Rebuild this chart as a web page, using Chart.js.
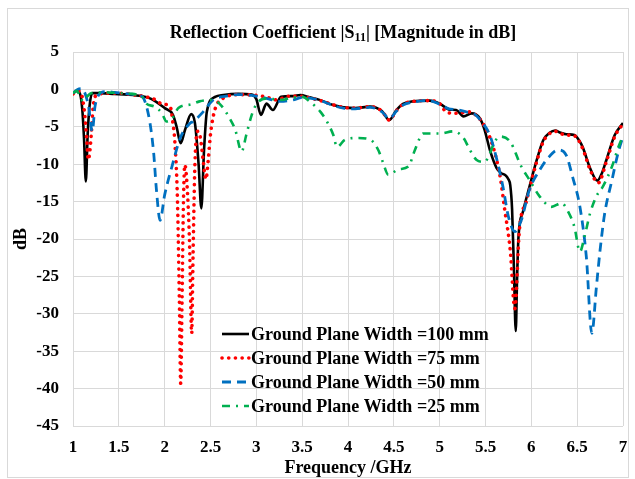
<!DOCTYPE html>
<html>
<head>
<meta charset="utf-8">
<script src="https://cdn.jsdelivr.net/npm/chart.js@4/dist/chart.umd.min.js"></script>
<style>
  html, body { margin: 0; padding: 0; background: #ffffff; }
  #wrap { width: 635px; height: 479px; position: relative; }
</style>
</head>
<body>
<div id="wrap"><canvas id="c" width="635" height="479"></canvas></div>
<script>
// Frequency axis ticks (GHz) and dB ticks
const xTickLabels = ['1', '1.5', '2', '2.5', '3', '3.5', '4', '4.5', '5', '5.5', '6', '6.5', '7'];
const yTickLabels = ['5', '0', '-5', '-10', '-15', '-20', '-25', '-30', '-35', '-40', '-45'];

const seriesNames = [
  'Ground Plane Width =100 mm',
  'Ground Plane Width =75 mm',
  'Ground Plane Width =50 mm',
  'Ground Plane Width =25 mm'
];

// |S11| in dB, ground plane width 100 mm
const freq100 = [1.00, 1.04, 1.07, 1.10, 1.12, 1.14, 1.16, 1.18, 1.21, 1.30, 1.45, 1.60, 1.75, 1.82, 1.90, 2.00, 2.09, 2.13, 2.175, 2.22, 2.29, 2.33, 2.37, 2.40, 2.43, 2.46, 2.55, 2.64, 2.80, 2.95, 3.00, 3.05, 3.11, 3.18, 3.27, 3.40, 3.48, 3.58, 3.69, 3.84, 3.95, 4.08, 4.24, 4.37, 4.45, 4.53, 4.60, 4.71, 4.89, 5.00, 5.11, 5.18, 5.26, 5.35, 5.44, 5.49, 5.55, 5.62, 5.67, 5.71, 5.75, 5.77, 5.79, 5.81, 5.83, 5.845, 5.86, 5.91, 5.98, 6.06, 6.13, 6.20, 6.26, 6.32, 6.38, 6.47, 6.52, 6.56, 6.64, 6.72, 6.77, 6.82, 6.91, 7.00];
const s11_100 = [-0.6, -0.2, -0.4, -2.5, -6.5, -12.3, -6.0, -2.3, -0.5, -0.5, -0.6, -0.7, -0.9, -1.1, -1.6, -2.5, -3.4, -5.0, -7.2, -5.5, -3.3, -4.5, -10.0, -15.9, -8.0, -3.0, -1.0, -0.75, -0.6, -0.7, -1.3, -3.4, -1.9, -2.75, -1.0, -0.9, -0.75, -1.05, -1.4, -2.1, -2.4, -2.5, -2.3, -2.9, -4.1, -2.75, -1.95, -1.6, -1.5, -1.9, -2.7, -2.75, -3.6, -3.2, -3.9, -5.4, -8.2, -10.5, -11.2, -11.4, -12.0, -12.8, -16.0, -24.0, -32.3, -25.0, -19.7, -16.3, -13.0, -9.4, -6.8, -5.8, -5.5, -5.8, -6.0, -6.1, -6.8, -7.7, -10.5, -12.2, -11.2, -9.4, -6.1, -4.5];

// |S11| in dB, ground plane width 75 mm
const freq75 = [1.00, 1.06, 1.10, 1.13, 1.15, 1.167, 1.185, 1.20, 1.22, 1.26, 1.40, 1.50, 1.65, 1.80, 1.90, 1.97, 2.06, 2.09, 2.11, 2.14, 2.16, 2.175, 2.19, 2.205, 2.22, 2.24, 2.27, 2.295, 2.31, 2.33, 2.36, 2.39, 2.42, 2.45, 2.475, 2.50, 2.53, 2.57, 2.65, 2.80, 3.00, 3.10, 3.22, 3.36, 3.48, 3.60, 3.70, 3.85, 3.95, 4.08, 4.24, 4.37, 4.45, 4.53, 4.60, 4.71, 4.89, 5.00, 5.07, 5.16, 5.25, 5.33, 5.38, 5.47, 5.57, 5.66, 5.71, 5.77, 5.82, 5.87, 5.95, 6.06, 6.13, 6.20, 6.26, 6.32, 6.38, 6.47, 6.56, 6.64, 6.73, 6.82, 6.91, 7.00];
const s11_75 = [-0.6, -0.2, -1.0, -3.6, -6.8, -9.4, -8.1, -5.9, -2.3, -0.75, -0.5, -0.5, -0.7, -1.0, -1.4, -1.95, -2.3, -4.5, -6.8, -15.0, -28.0, -39.3, -28.0, -15.0, -10.1, -12.0, -20.0, -32.6, -22.0, -10.0, -5.6, -6.5, -9.5, -12.0, -9.5, -6.0, -3.6, -2.0, -1.1, -0.7, -0.8, -1.0, -1.4, -0.9, -0.9, -1.2, -1.5, -2.1, -2.4, -2.5, -2.3, -2.9, -4.1, -2.8, -2.0, -1.6, -1.5, -1.9, -3.0, -3.2, -3.1, -3.0, -3.3, -4.5, -7.2, -11.7, -16.1, -21.5, -29.3, -18.8, -14.8, -9.6, -7.0, -5.9, -5.6, -5.9, -6.1, -6.2, -7.9, -10.7, -12.5, -9.6, -6.3, -4.6];

// |S11| in dB, ground plane width 50 mm
const freq50 = [1.00, 1.05, 1.09, 1.13, 1.17, 1.21, 1.24, 1.28, 1.35, 1.45, 1.60, 1.72, 1.77, 1.84, 1.88, 1.91, 1.95, 2.00, 2.08, 2.17, 2.28, 2.31, 2.42, 2.53, 2.67, 2.80, 2.95, 3.11, 3.26, 3.40, 3.50, 3.60, 3.70, 3.85, 3.95, 4.08, 4.24, 4.37, 4.45, 4.53, 4.60, 4.71, 4.89, 5.00, 5.10, 5.18, 5.29, 5.38, 5.47, 5.55, 5.62, 5.69, 5.75, 5.82, 5.89, 5.98, 6.09, 6.18, 6.29, 6.38, 6.45, 6.53, 6.60, 6.66, 6.71, 6.75, 6.80, 6.88, 6.95, 7.00];
const s11_50 = [-0.5, 0.0, 0.1, -0.5, -2.3, -5.6, -2.3, -0.75, -0.3, -0.4, -0.6, -0.8, -1.2, -4.5, -8.5, -13.4, -17.5, -14.1, -10.3, -6.5, -4.5, -4.3, -3.0, -1.4, -0.9, -0.7, -0.8, -1.2, -1.6, -1.4, -1.1, -1.2, -1.5, -2.2, -2.5, -2.6, -2.4, -3.0, -3.9, -2.9, -2.1, -1.7, -1.5, -2.0, -2.6, -2.7, -3.0, -3.3, -4.5, -6.2, -9.2, -13.0, -17.0, -19.0, -17.5, -13.4, -10.8, -9.2, -8.1, -8.8, -11.7, -15.7, -22.4, -32.6, -26.4, -21.5, -16.6, -12.1, -8.3, -6.3];

// |S11| in dB, ground plane width 25 mm
const freq25 = [1.00, 1.04, 1.08, 1.11, 1.15, 1.20, 1.35, 1.50, 1.65, 1.77, 1.80, 1.89, 1.97, 2.02, 2.08, 2.15, 2.29, 2.38, 2.53, 2.62, 2.71, 2.77, 2.84, 2.89, 2.95, 3.00, 3.11, 3.26, 3.40, 3.50, 3.60, 3.70, 3.77, 3.84, 3.88, 3.97, 4.11, 4.24, 4.33, 4.38, 4.44, 4.55, 4.66, 4.73, 4.82, 5.00, 5.15, 5.26, 5.33, 5.40, 5.49, 5.55, 5.60, 5.66, 5.77, 5.89, 5.98, 6.09, 6.22, 6.33, 6.40, 6.47, 6.53, 6.58, 6.64, 6.71, 6.78, 6.88, 6.95, 7.00];
const s11_25 = [-0.5, -0.2, -1.0, -1.6, -1.0, -0.5, -0.4, -0.5, -0.6, -1.2, -1.9, -2.3, -3.2, -4.3, -3.9, -2.5, -2.0, -1.6, -1.4, -2.2, -3.9, -5.4, -8.3, -6.1, -3.4, -2.0, -1.2, -1.4, -1.1, -1.0, -1.8, -3.0, -4.3, -6.1, -7.7, -6.7, -6.5, -6.7, -8.1, -9.7, -11.4, -10.7, -10.3, -8.1, -5.9, -5.9, -5.6, -6.5, -8.1, -9.4, -9.7, -8.5, -7.0, -6.3, -7.0, -10.3, -12.1, -14.3, -15.7, -15.2, -16.3, -18.4, -21.7, -19.7, -16.6, -14.3, -13.0, -10.3, -7.7, -6.2];

const SERIF = '"Liberation Serif", "Times New Roman", serif';

function toPoints(xs, ys) {
  return xs.map((x, i) => ({ x: x, y: ys[i] }));
}

const lineStyles = [
  { color: '#000000', width: 2.6, dash: [],            cap: 'butt'  },
  { color: '#ff0000', width: 3.6, dash: [0.1, 6.6],    cap: 'round' },
  { color: '#0070c0', width: 2.8, dash: [9, 6],        cap: 'butt'  },
  { color: '#00b050', width: 2.6, dash: [8, 6, 2, 6],  cap: 'butt'  }
];

const seriesData = [
  toPoints(freq100, s11_100),
  toPoints(freq75, s11_75),
  toPoints(freq50, s11_50),
  toPoints(freq25, s11_25)
];

const datasets = seriesData.map((pts, i) => ({
  label: seriesNames[i],
  data: pts,
  borderColor: lineStyles[i].color,
  borderWidth: lineStyles[i].width,
  borderDash: lineStyles[i].dash,
  borderCapStyle: lineStyles[i].cap,
  borderJoinStyle: 'round',
  pointRadius: 0,
  fill: false,
  cubicInterpolationMode: 'monotone',
  order: 4 - i
}));

// Chart title with a subscripted S11, outer frame and in-plot legend
const decorations = {
  id: 'decorations',
  afterDatasetsDraw(chart) {
    const ctx = chart.ctx;
    ctx.save();
    // legend block
    const lx0 = 222, lx1 = 249, tx = 251;
    const rows = [334, 358, 382, 406];
    ctx.font = 'bold 18px ' + SERIF;
    ctx.textBaseline = 'middle';
    ctx.textAlign = 'left';
    rows.forEach((y, i) => {
      const st = lineStyles[i];
      ctx.beginPath();
      ctx.strokeStyle = st.color;
      ctx.lineWidth = st.width;
      ctx.lineCap = st.cap;
      ctx.setLineDash(st.dash);
      ctx.moveTo(lx0, y);
      ctx.lineTo(lx1, y);
      ctx.stroke();
      ctx.setLineDash([]);
      ctx.fillStyle = '#000000';
      ctx.fillText(seriesNames[i], tx, y + 1);
    });
    ctx.restore();
  },
  afterDraw(chart) {
    const ctx = chart.ctx;
    ctx.save();
    // outer frame
    ctx.strokeStyle = '#d9d9d9';
    ctx.lineWidth = 1;
    ctx.strokeRect(7.5, 8.5, 621, 469);
    // title
    const big = 'bold 18px ' + SERIF;
    const small = 'bold 12px ' + SERIF;
    const p1 = 'Reflection Coefficient |S';
    const p2 = '11';
    const p3 = '| [Magnitude in dB]';
    ctx.font = big;
    const w1 = ctx.measureText(p1).width;
    const w3 = ctx.measureText(p3).width;
    ctx.font = small;
    const w2 = ctx.measureText(p2).width;
    const total = w1 + w2 + w3;
    let x = 343 - total / 2;
    const y = 33;
    ctx.fillStyle = '#000000';
    ctx.textBaseline = 'middle';
    ctx.textAlign = 'left';
    ctx.font = big;
    ctx.fillText(p1, x, y);
    x += w1;
    ctx.font = small;
    ctx.fillText(p2, x, y + 5);
    x += w2;
    ctx.font = big;
    ctx.fillText(p3, x, y);
    ctx.restore();
  }
};

new Chart(document.getElementById('c'), {
  type: 'line',
  data: { datasets: datasets },
  plugins: [decorations],
  options: {
    responsive: false,
    animation: false,
    devicePixelRatio: 1,
    layout: { padding: { left: 0, right: 12, top: 52, bottom: 0 } },
    plugins: {
      legend: { display: false },
      tooltip: { enabled: false },
      title: { display: false }
    },
    scales: {
      x: {
        type: 'linear',
        min: 1,
        max: 7,
        afterBuildTicks(scale) {
          scale.ticks = xTickLabels.map(v => ({ value: parseFloat(v) }));
        },
        ticks: {
          autoSkip: false,
          maxRotation: 0,
          padding: 11,
          color: '#000000',
          font: { family: SERIF, size: 17, weight: 'bold' },
          callback: (v) => xTickLabels[xTickLabels.findIndex(t => parseFloat(t) === v)]
        },
        grid: { color: '#d9d9d9', lineWidth: 1, drawTicks: false },
        border: { display: false },
        title: {
          display: true,
          text: 'Frequency /GHz',
          color: '#000000',
          font: { family: SERIF, size: 18, weight: 'bold' },
          padding: { top: 2, bottom: 0 }
        },
        afterFit(scale) {
          scale.height = 53;
          scale.paddingLeft = 0;
          scale.paddingRight = 0;
        }
      },
      y: {
        type: 'linear',
        min: -45,
        max: 5,
        afterBuildTicks(scale) {
          scale.ticks = yTickLabels.map(v => ({ value: parseFloat(v) }));
        },
        ticks: {
          padding: 14,
          color: '#000000',
          font: { family: SERIF, size: 17, weight: 'bold' },
          callback: (v) => yTickLabels[yTickLabels.findIndex(t => parseFloat(t) === v)]
        },
        grid: { color: '#d9d9d9', lineWidth: 1, drawTicks: false },
        border: { display: false },
        title: {
          display: true,
          text: 'dB',
          color: '#000000',
          font: { family: SERIF, size: 18, weight: 'bold' },
          padding: { top: 11, bottom: 0 }
        },
        afterFit(scale) {
          scale.width = 73;
          scale.paddingTop = 0;
          scale.paddingBottom = 0;
        }
      }
    }
  }
});
</script>
</body>
</html>
